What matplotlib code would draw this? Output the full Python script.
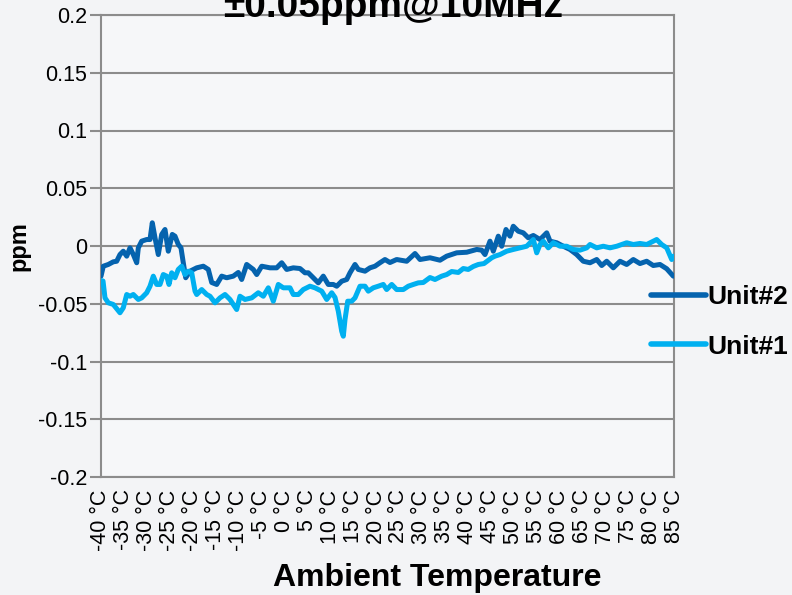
import matplotlib
matplotlib.use("Agg")
import matplotlib.pyplot as plt

# ---- data ----
unit2_temp = [-40.0, -39.5, -38.41, -37.32, -36.58, -35.86, -35.14, -34.39, -33.67, -32.95,
              -32.21, -31.86, -31.12, -30.03, -29.31, -28.81, -28.22, -27.50, -26.76, -26.04,
              -25.32, -24.45, -23.86, -23.14, -22.55, -22.05, -21.52, -20.58, -19.12, -17.68,
              -16.59, -15.85, -14.76, -13.67, -12.58, -11.14, -10.05, -9.31, -8.22, -6.78,
              -6.03, -4.94, -3.13, -1.67, -0.58, 0.51, 1.95, 3.41, 4.50, 5.22,
              6.31, 7.40, 8.49, 9.58, 10.67, 11.42, 12.51, 13.60, 14.32, 15.41,
              16.13, 17.59, 18.68, 19.77, 20.86, 21.95, 23.04, 24.50, 26.69, 28.50,
              29.59, 31.77, 33.95, 35.41, 37.60, 39.78, 41.96, 43.05, 43.77, 44.86,
              45.58, 46.67, 47.41, 48.35, 49.22, 49.94, 51.03, 52.12, 53.21, 54.31,
              55.77, 57.23, 57.95, 59.41, 60.85, 62.31, 63.77, 65.21, 66.68, 68.14,
              69.23, 70.32, 71.76, 73.22, 74.68, 76.12, 77.58, 79.04, 80.48, 81.94,
              83.41, 84.85]
unit2_ppm = [-0.0261, -0.0175, -0.0160, -0.0137, -0.0132, -0.0074, -0.0045, -0.0088, -0.0016, -0.0074,
             -0.0145, -0.0016, 0.0042, 0.0056, 0.0056, 0.0201, 0.0071, -0.0074, 0.0100, 0.0143,
             -0.0045, 0.0100, 0.0085, 0.0013, -0.0016, -0.0145, -0.0275, -0.0218, -0.0189, -0.0175,
             -0.0203, -0.0316, -0.0333, -0.0261, -0.0275, -0.0261, -0.0229, -0.0290, -0.0160, -0.0203,
             -0.0247, -0.0175, -0.0189, -0.0189, -0.0145, -0.0203, -0.0189, -0.0195, -0.0232, -0.0232,
             -0.0275, -0.0319, -0.0261, -0.0333, -0.0333, -0.0348, -0.0305, -0.0290, -0.0232, -0.0160,
             -0.0203, -0.0218, -0.0189, -0.0175, -0.0145, -0.0117, -0.0143, -0.0117, -0.0132, -0.0065,
             -0.0117, -0.0102, -0.0123, -0.0088, -0.0059, -0.0054, -0.0030, -0.0036, -0.0074, 0.0042,
             -0.0045, 0.0085, -0.0002, 0.0143, 0.0085, 0.0171, 0.0128, 0.0114, 0.0071, 0.0091,
             0.0056, 0.0114, 0.0042, 0.0028, -0.0002, -0.0030, -0.0074, -0.0132, -0.0145, -0.0117,
             -0.0169, -0.0132, -0.0189, -0.0132, -0.0160, -0.0117, -0.0152, -0.0132, -0.0169, -0.0160,
             -0.0197, -0.0261]

unit1_temp = [-40.0, -39.56, -39.13, -38.41, -37.32, -35.86, -35.14, -34.39, -33.67, -32.95,
              -31.86, -31.12, -30.03, -29.31, -28.59, -27.85, -27.13, -26.41, -25.67, -25.17,
              -24.58, -23.86, -23.14, -22.40, -21.68, -20.96, -20.21, -19.49, -19.12, -18.03,
              -16.94, -16.22, -15.13, -14.04, -12.95, -11.86, -10.40, -9.68, -8.59, -7.12,
              -5.69, -4.59, -3.50, -2.41, -1.32, -0.23, 1.23, 1.95, 3.04, 4.13,
              5.59, 6.68, 8.15, 9.24, 10.33, 11.05, 11.77, 12.51, 12.86, 13.23,
              13.82, 14.69, 15.41, 16.50, 17.59, 18.31, 19.40, 20.49, 21.58, 22.32,
              23.42, 24.50, 25.95, 27.04, 28.13, 29.22, 30.31, 31.77, 32.86, 34.33,
              35.41, 36.50, 37.94, 39.03, 40.12, 41.22, 42.31, 43.55, 45.23, 45.95,
              47.04, 48.50, 49.94, 51.40, 52.87, 54.31, 55.05, 55.77, 56.49, 57.58,
              58.67, 60.14, 61.60, 63.04, 64.50, 65.96, 66.68, 68.14, 69.58, 71.04,
              72.51, 74.68, 76.12, 77.58, 79.04, 81.22, 82.31, 83.41, 84.50, 84.85]
unit1_ppm = [-0.0299, -0.0303, -0.0449, -0.0492, -0.0506, -0.0578, -0.0535, -0.0420, -0.0435, -0.0420,
             -0.0463, -0.0449, -0.0405, -0.0348, -0.0261, -0.0333, -0.0333, -0.0247, -0.0261, -0.0333,
             -0.0232, -0.0275, -0.0203, -0.0175, -0.0247, -0.0218, -0.0232, -0.0391, -0.0420, -0.0377,
             -0.0420, -0.0435, -0.0492, -0.0449, -0.0420, -0.0463, -0.0550, -0.0435, -0.0463, -0.0449,
             -0.0405, -0.0435, -0.0362, -0.0478, -0.0333, -0.0362, -0.0362, -0.0420, -0.0420, -0.0377,
             -0.0348, -0.0362, -0.0391, -0.0463, -0.0405, -0.0446, -0.0565, -0.0738, -0.0781, -0.0636,
             -0.0478, -0.0478, -0.0449, -0.0348, -0.0348, -0.0391, -0.0362, -0.0348, -0.0333, -0.0377,
             -0.0333, -0.0377, -0.0377, -0.0348, -0.0333, -0.0319, -0.0316, -0.0273, -0.0290, -0.0261,
             -0.0247, -0.0221, -0.0229, -0.0195, -0.0203, -0.0177, -0.0160, -0.0152, -0.0102, -0.0088,
             -0.0074, -0.0045, -0.0030, -0.0016, -0.0002, 0.0056, -0.0059, 0.0013, 0.0042, -0.0016,
             0.0028, -0.0002, -0.0002, -0.0030, -0.0036, -0.0016, 0.0013, -0.0016, -0.0002, -0.0016,
             -0.0002, 0.0028, 0.0013, 0.0022, 0.0013, 0.0056, 0.0013, -0.0016, -0.0117, -0.0088]

tick_temps = list(range(-40, 90, 5))
tick_labels = [f"{t} °C" for t in tick_temps]
y_ticks = [0.2, 0.15, 0.1, 0.05, 0, -0.05, -0.1, -0.15, -0.2]
y_tick_labels = ["0.2", "0.15", "0.1", "0.05", "0", "-0.05", "-0.1", "-0.15", "-0.2"]

title = "±0.05ppm@10MHz"
x_title = "Ambient Temperature"
y_title = "ppm"
series_names = ["Unit#2", "Unit#1"]
colors = ["#0563ae", "#00b0f0"]

# ---- figure ----
plt.rcParams['font.family'] = ['Liberation Sans', 'DejaVu Sans']
W, H = 792, 595
fig = plt.figure(figsize=(W / 100, H / 100), dpi=100, facecolor="#f3f4f6")
ax = fig.add_axes([101 / W, 1 - 477 / H, (674 - 101) / W, (477 - 15) / H])
ax.set_facecolor("#f6f7f9")

grid_c = "#8c8c8c"
for yv in y_ticks:
    ax.axhline(yv, color=grid_c, lw=1.5, zorder=1)

l2, = ax.plot(unit2_temp, unit2_ppm, color=colors[0], lw=3.6, solid_joinstyle="round",
              solid_capstyle="round", zorder=3)
l1, = ax.plot(unit1_temp, unit1_ppm, color=colors[1], lw=3.6, solid_joinstyle="round",
              solid_capstyle="round", zorder=3)

ax.set_xlim(-40, 85)
ax.set_ylim(-0.2, 0.2)
ax.set_yticks(y_ticks)
ax.set_yticklabels(y_tick_labels, fontsize=15.5)
ax.set_xticks(tick_temps)
ax.set_xticklabels(tick_labels, rotation=90, fontsize=15.5)
ax.tick_params(axis="y", length=8, width=1.5, color=grid_c, pad=2)
ax.tick_params(axis="x", length=0, pad=9)
for s in ax.spines.values():
    s.set_color(grid_c)
    s.set_linewidth(1.5)

fig.text(19 / W, 1 - 246 / H, y_title, rotation=90, fontsize=17, fontweight="bold",
         ha="center", va="center")
fig.text(437 / W, 1 - 578 / H, x_title, fontsize=23, fontweight="bold", ha="center", va="center")
fig.text(393 / W, 1 - 17 / H, title, fontsize=28, fontweight="bold", ha="center", va="baseline")

leg = fig.legend([l2, l1], series_names, loc="center left",
                 bbox_to_anchor=(651 / W, 1 - 322 / H), frameon=False,
                 prop={"size": 19, "weight": "bold"}, handlelength=2.1, handletextpad=0.05,
                 labelspacing=0.95, borderpad=0, borderaxespad=0)
for h in leg.legend_handles:
    h.set_linewidth(4)

fig.savefig("out.png", dpi=100, facecolor=fig.get_facecolor())
